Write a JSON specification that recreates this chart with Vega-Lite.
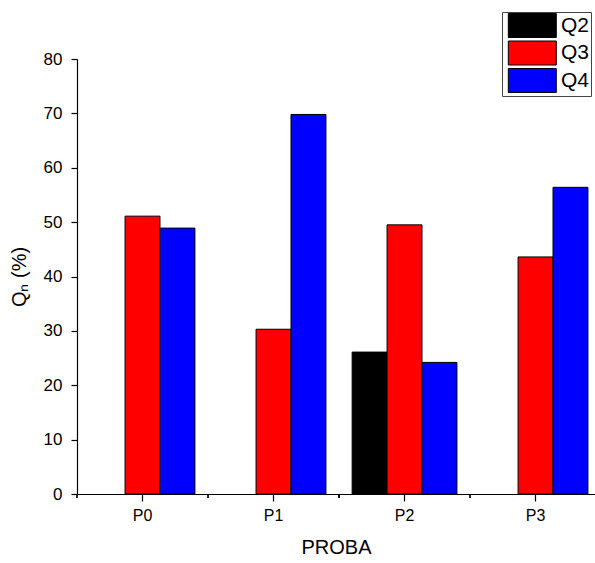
{
  "$schema": "https://vega.github.io/schema/vega-lite/v6.json",
  "width": 518,
  "height": 435,
  "autosize": {"type": "none"},
  "padding": {"left": 77, "top": 59, "right": 0, "bottom": 69},
  "background": "white",
  "config": {
    "view": {"stroke": null},
    "font": "Liberation Sans",
    "axis": {
      "domainColor": "black",
      "domainWidth": 1.2,
      "tickColor": "black",
      "tickWidth": 1.2,
      "grid": false,
      "labelColor": "black",
      "titleColor": "black",
      "labelFont": "Liberation Sans",
      "titleFont": "Liberation Sans",
      "labelFontSize": 16,
      "titleFontSize": 20,
      "titleFontWeight": "normal"
    }
  },
  "data": {
    "values": [
      {"proba": "P0", "series": "Q3", "value": 51.1},
      {"proba": "P0", "series": "Q4", "value": 48.9},
      {"proba": "P1", "series": "Q3", "value": 30.3},
      {"proba": "P1", "series": "Q4", "value": 69.8},
      {"proba": "P2", "series": "Q2", "value": 26.1},
      {"proba": "P2", "series": "Q3", "value": 49.5},
      {"proba": "P2", "series": "Q4", "value": 24.2},
      {"proba": "P3", "series": "Q3", "value": 43.6},
      {"proba": "P3", "series": "Q4", "value": 56.4}
    ]
  },
  "encoding": {
    "x": {
      "field": "proba",
      "type": "nominal",
      "title": "PROBA",
      "scale": {"domain": ["P0", "P1", "P2", "P3"], "paddingInner": 0.2, "paddingOuter": 0.077, "align": 0.65},
      "axis": {"labelAngle": 0, "tickSize": 7, "labelPadding": 6, "titlePadding": 14}
    }
  },
  "layer": [
    {
      "mark": {"type": "bar", "stroke": "black", "strokeWidth": 1},
      "encoding": {
        "xOffset": {"field": "series", "scale": {"domain": ["Q2", "Q3", "Q4"]}},
        "y": {
          "field": "value",
          "type": "quantitative",
          "title": "Qₙ (%)",
          "scale": {"domain": [0, 80], "nice": false},
          "axis": {
            "values": [0, 5, 10, 15, 20, 25, 30, 35, 40, 45, 50, 55, 60, 65, 70, 75, 80],
            "labelExpr": "datum.value % 10 === 0 ? datum.label : ''",
            "tickSize": {"condition": {"test": "datum.value % 10 === 0", "value": 6}, "value": 3},
            "labelFontSize": 17,
            "labelPadding": 9,
            "titlePadding": 14
          }
        },
        "color": {
          "field": "series",
          "type": "nominal",
          "scale": {"domain": ["Q2", "Q3", "Q4"], "range": ["#000000", "#ff0000", "#0000ff"]},
          "legend": {
            "title": null,
            "orient": "none",
            "legendX": 425,
            "legendY": -47,
            "direction": "vertical",
            "fillColor": "white",
            "strokeColor": "#444444",
            "padding": 1,
            "symbolType": "M-0.6,-1H3.4V1H-0.6Z",
            "symbolSize": 576,
            "symbolStrokeColor": "black",
            "symbolStrokeWidth": 1,
            "symbolOpacity": 1,
            "labelFontSize": 21,
            "labelColor": "black",
            "labelOffset": 33,
            "rowPadding": -1.5
          }
        }
      }
    },
    {
      "mark": {"type": "rule", "color": "black", "strokeWidth": 1.2},
      "encoding": {
        "x": {"field": "proba", "type": "nominal", "bandPosition": -0.125},
        "y": {"datum": 0},
        "y2": {"datum": -0.75}
      }
    }
  ]
}
